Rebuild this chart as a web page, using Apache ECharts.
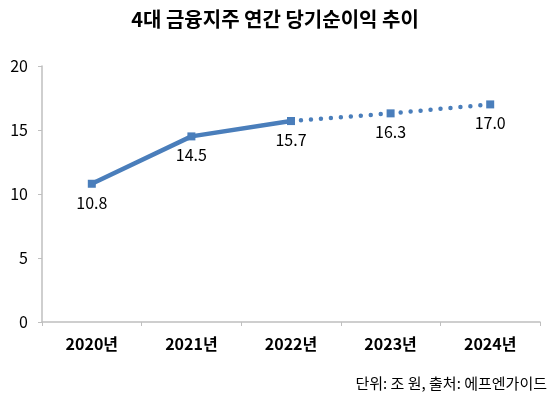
<!DOCTYPE html>
<html>
<head>
<meta charset="utf-8">
<script src="https://cdn.jsdelivr.net/npm/echarts@6/dist/echarts.min.js"></script>
<style>
  html, body { margin: 0; padding: 0; background: #fff; }
  #main { width: 550px; height: 396px; }
</style>
</head>
<body>
<div id="main"></div>
<script>
// 연도, 실적, 전망
const years = ['2020년', '2021년', '2022년', '2023년', '2024년'];
const actual = [10.8, 14.5, 15.7, '-', '-'];
const forecast = ['-', '-', 15.7, 16.3, 17.0];
const yTicks = [0, 5, 10, 15, 20];

const font = '"Malgun Gothic", "Noto Sans CJK KR", sans-serif';
const blue = '#4a7ebb';

let myChart = echarts.init(document.getElementById('main'));
let option = {
    title: {
        text: '4대 금융지주 연간 당기순이익 추이',
        left: 'center',
        top: 4,
        textStyle: { color: '#000', fontSize: 20, fontWeight: 'bold', fontFamily: font }
    },
    grid: { left: 42, right: 10, top: 66, bottom: 74 },
    xAxis: {
        type: 'category',
        data: years,
        boundaryGap: true,
        axisLine: { lineStyle: { color: '#bfbfbf', width: 1.5 } },
        axisTick: { show: true, length: 4, lineStyle: { color: '#bfbfbf' } },
        axisLabel: { color: '#000', fontSize: 16, fontWeight: 'bold', fontFamily: font, margin: 14 }
    },
    yAxis: {
        type: 'value',
        min: yTicks[0],
        max: yTicks[yTicks.length - 1],
        interval: 5,
        splitLine: { show: false },
        axisLine: { show: true, lineStyle: { color: '#bfbfbf', width: 1.5 } },
        axisTick: { show: true, length: 4, lineStyle: { color: '#bfbfbf' } },
        axisLabel: { color: '#000', fontSize: 16, fontFamily: font, margin: 14 }
    },
    graphic: [{
        type: 'text',
        right: 3,
        top: 376,
        style: { text: '단위: 조 원, 출처: 에프엔가이드', fill: '#000', fontSize: 15, fontFamily: font }
    }],
    series: [{
        name: '실적',
        type: 'line',
        data: actual,
        symbol: 'rect',
        symbolSize: 8,
        lineStyle: { color: blue, width: 4.5 },
        itemStyle: { color: blue },
        label: {
            show: true, position: 'bottom', distance: 7,
            color: '#000', fontSize: 16, fontFamily: font,
            formatter: p => p.value.toFixed(1)
        },
        z: 3
    }, {
        name: '전망',
        type: 'line',
        data: forecast,
        symbol: 'rect',
        symbolSize: 8,
        lineStyle: { color: blue, width: 4.5, type: [0, 10], cap: 'round' },
        itemStyle: { color: blue },
        label: {
            show: true, position: 'bottom', distance: 7,
            color: '#000', fontSize: 16, fontFamily: font,
            formatter: p => p.dataIndex === 2 ? '' : p.value.toFixed(1)
        },
        z: 2
    }]
};
myChart.setOption(option);
</script>
</body>
</html>
